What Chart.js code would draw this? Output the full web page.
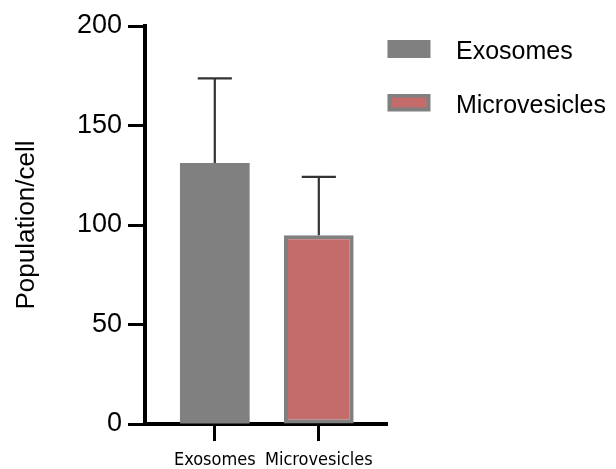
<!DOCTYPE html>
<html>
<head>
<meta charset="utf-8">
<script src="https://cdn.jsdelivr.net/npm/chart.js@4/dist/chart.umd.min.js"></script>
<style>
  html, body { margin: 0; padding: 0; background: #ffffff; }
  canvas { display: block; }
</style>
</head>
<body>
<canvas id="chart" width="616" height="469"></canvas>
<script>
// Vesicle populations per cell: mean with upward SD whisker
const categories = ['Exosomes', 'Microvesicles'];
const means = [131.2, 94.9];
const sdUpper = [42.5, 29.3];
const yTicks = [0, 50, 100, 150, 200];

const fillColors = ['#808080', '#c46c6c'];
const edgeColors = ['#808080', '#808080'];
const edgeWidths = [0, 4];

const sans = "'Liberation Sans', Arial, Helvetica, sans-serif";
const narrow = "'Liberation Sans Narrow', 'Arial Narrow', 'DejaVu Sans Condensed', sans-serif";

// legend swatch: a 43x18 box drawn at the left of a wider transparent tile
function swatch(fill, edge, bw) {
  const c = document.createElement('canvas');
  c.width = 56; c.height = 25;
  const g = c.getContext('2d');
  g.fillStyle = edge;
  g.fillRect(0, 0, 43, 18);
  g.fillStyle = fill;
  g.fillRect(bw, bw, 43 - 2 * bw, 18 - 2 * bw);
  return c;
}

const datasets = categories.map((name, i) => ({
  label: name,
  data: [{ x: i + 1, y: means[i] }],
  errorPlus: [sdUpper[i]],
  backgroundColor: fillColors[i],
  borderColor: edgeColors[i],
  borderWidth: edgeWidths[i],
  borderSkipped: false,
  categoryPercentage: 1,
  barPercentage: 0.67,
  grouped: false
}));

const errorBars = {
  id: 'errorBars',
  afterDatasetsDraw(chart) {
    const { ctx } = chart;
    const yScale = chart.scales.y;
    ctx.save();
    ctx.strokeStyle = '#333333';
    ctx.lineWidth = 2.2;
    chart.data.datasets.forEach((ds, i) => {
      const meta = chart.getDatasetMeta(i);
      meta.data.forEach((bar, j) => {
        const v = ds.data[j].y + ds.errorPlus[j];
        const top = yScale.getPixelForValue(v);
        const half = bar.width * 0.245;
        ctx.beginPath();
        ctx.moveTo(bar.x, bar.y);
        ctx.lineTo(bar.x, top);
        ctx.moveTo(bar.x - half, top);
        ctx.lineTo(bar.x + half, top);
        ctx.stroke();
      });
    });
    ctx.restore();
  }
};

new Chart(document.getElementById('chart'), {
  type: 'bar',
  data: { datasets },
  plugins: [errorBars],
  options: {
    responsive: false,
    devicePixelRatio: 1,
    animation: false,
    layout: { padding: { top: 0, right: 0, bottom: 0, left: 0 } },
    plugins: {
      tooltip: { enabled: false },
      legend: {
        position: 'right',
        align: 'start',
        maxWidth: 320,
        title: { display: true, text: '', padding: 0, font: { size: 10, lineHeight: 4 } },
        labels: {
          padding: 0,
          usePointStyle: true,
          pointStyleWidth: 56,
          color: '#000000',
          font: { family: sans, size: 25, lineHeight: 2.14 },
          generateLabels(chart) {
            return chart.data.datasets.map((ds, i) => ({
              text: [ds.label],
              fontColor: '#000000',
              fillStyle: ds.backgroundColor,
              strokeStyle: ds.borderColor,
              lineWidth: 0,
              pointStyle: swatch(ds.backgroundColor, ds.borderColor, 4),
              hidden: !chart.isDatasetVisible(i),
              datasetIndex: i
            }));
          }
        }
      }
    },
    scales: {
      x: {
        type: 'linear',
        offset: false,
        min: 0.329,
        max: 2.66,
        afterBuildTicks(scale) {
          scale.ticks = categories.map((c, i) => ({ value: i + 1 }));
        },
        afterFit(scale) { scale.height = 45; },
        ticks: {
          callback: (v) => categories[Math.round(v) - 1],
          color: '#000000',
          font: { family: narrow, size: 18 },
          padding: 9,
          maxRotation: 0,
          autoSkip: false
        },
        grid: {
          display: true,
          offset: false,
          drawOnChartArea: false,
          drawTicks: true,
          tickLength: 17,
          tickWidth: 3,
          tickColor: '#000000'
        },
        border: { display: true, width: 4, color: '#000000' }
      },
      y: {
        min: 0,
        max: 200,
        afterBuildTicks(scale) {
          scale.ticks = yTicks.map(v => ({ value: v }));
        },
        afterFit(scale) {
          scale.width = 145;
          scale.paddingTop = 26;
        },
        ticks: {
          color: '#000000',
          font: { family: sans, size: 27 },
          padding: 6
        },
        grid: {
          display: true,
          drawOnChartArea: false,
          drawTicks: true,
          tickLength: 17,
          tickWidth: 3,
          tickColor: '#000000'
        },
        border: { display: true, width: 4, color: '#000000' },
        title: {
          display: true,
          text: 'Population/cell',
          color: '#000000',
          font: { family: sans, size: 26 },
          padding: { top: 11, bottom: 0 }
        }
      }
    }
  }
});
</script>
</body>
</html>
